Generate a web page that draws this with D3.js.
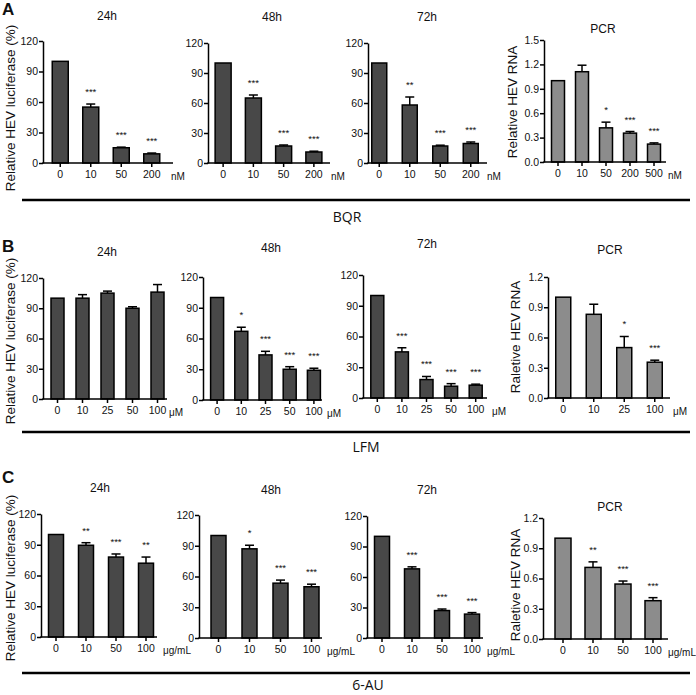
<!DOCTYPE html>
<html><head><meta charset="utf-8">
<script src="https://cdn.jsdelivr.net/npm/d3@7"></script>
<style>
html,body{margin:0;padding:0;background:#fff;}
svg text{font-family:"Liberation Sans",Arial,sans-serif;fill:#111;}
</style></head>
<body><svg id="c" width="696" height="695"></svg>
<script>
// ---------- DATA ----------
const rowLetters = ["A", "B", "C"];
const drugs = ["BQR", "LFM", "6-AU"];
const panelTitles = ["24h", "48h", "72h", "PCR"];
const units = ["nM", "μM", "μg/mL"];
const lucTicks = [0, 30, 60, 90, 120];
const pcrTicksA = [0, 0.3, 0.6, 0.9, 1.2, 1.5];
const pcrTicksBC = [0, 0.3, 0.6, 0.9, 1.2];
const yLabelLuc = "Relative HEV luciferase (%)";
const yLabelPcrA = "Relative HEV RNA";
const yLabelPcrBC = "Raletive HEV RNA";

// Row A (BQR)
const catsA = ["0", "10", "50", "200"];
const catsAPcr = ["0", "10", "50", "200", "500"];
const valA24 = [100, 55, 15, 9];      const errA24 = [0, 3, 0.6, 0.8];   const starA24 = ["", "***", "***", "***"];
const valA48 = [100, 65, 17, 11];     const errA48 = [0, 3, 1, 0.8];     const starA48 = ["", "***", "***", "***"];
const valA72 = [100, 58, 17, 19.5];   const errA72 = [0, 8, 0.8, 1.5];   const starA72 = ["", "**", "***", "***"];
const valAPcr = [1.0, 1.11, 0.42, 0.355, 0.22]; const errAPcr = [0, 0.08, 0.07, 0.02, 0.015]; const starAPcr = ["", "", "*", "***", "***"];

// Row B (LFM)
const catsB = ["0", "10", "25", "50", "100"];
const catsBPcr = ["0", "10", "25", "100"];
const valB24 = [100, 100, 105, 90, 106];   const errB24 = [0, 3.5, 2, 1.5, 7.5]; const starB24 = ["", "", "", "", ""];
const valB48 = [100, 67, 44, 30, 29];      const errB48 = [0, 4, 3.5, 2.5, 2];   const starB48 = ["", "*", "***", "***", "***"];
const valB72 = [100, 45, 18, 11.5, 12.5];  const errB72 = [0, 4, 3, 2.5, 1];     const starB72 = ["", "***", "***", "***", "***"];
const valBPcr = [1.0, 0.83, 0.50, 0.355];  const errBPcr = [0, 0.1, 0.11, 0.02]; const starBPcr = ["", "", "*", "***"];

// Row C (6-AU)
const catsC = ["0", "10", "50", "100"];
const valC24 = [100, 89.5, 78, 72];    const errC24 = [0, 2.5, 3, 6];    const starC24 = ["", "**", "***", "**"];
const valC48 = [100, 87, 53.5, 50];    const errC48 = [0, 3.5, 3, 2.5];  const starC48 = ["", "*", "***", "***"];
const valC72 = [100, 68, 27, 23.5];    const errC72 = [0, 2, 1.5, 1.5];  const starC72 = ["", "***", "***", "***"];
const valCPcr = [1.0, 0.71, 0.545, 0.38]; const errCPcr = [0, 0.055, 0.03, 0.03]; const starCPcr = ["", "**", "***", "***"];

// ---------- LAYOUT (positions only) ----------
const layout = [
  // row A
  {x0:43, xEnd:173, band:[45,167], y0:163, yTop:41, tx:107, ty:20, ux:178, bw:16},
  {x0:208, xEnd:330, band:[208,329], y0:163, yTop:43, tx:272, ty:21, ux:338, bw:16},
  {x0:368, xEnd:487, band:[364,486], y0:163, yTop:43, tx:427, ty:21, ux:494, bw:15},
  {x0:544, xEnd:666, band:[546,666], y0:162, yTop:40, tx:603, ty:33, ux:675, bw:13},
  // row B
  {x0:43, xEnd:167, band:[45,170], y0:399, yTop:278, tx:107, ty:256, ux:176, bw:13},
  {x0:203, xEnd:322, band:[205,326], y0:400, yTop:277, tx:271, ty:252, ux:334, bw:13},
  {x0:363, xEnd:487, band:[365,488], y0:398, yTop:275, tx:427, ty:248, ux:499, bw:13},
  {x0:548, xEnd:670, band:[548,670], y0:398, yTop:277, tx:610, ty:254, ux:680, bw:15},
  // row C
  {x0:41, xEnd:157, band:[41,161], y0:637, yTop:514, tx:100, ty:492, ux:177, bw:15},
  {x0:199, xEnd:322, band:[203,327], y0:638, yTop:515, tx:271, ty:494, ux:341, bw:15},
  {x0:367, xEnd:483, band:[367,487], y0:638, yTop:516, tx:427, ty:494, ux:501, bw:15},
  {x0:543, xEnd:668, band:[548,668], y0:639, yTop:518, tx:610, ty:511, ux:682, bw:16}
];
const rowLayout = [
  {letterY:15, lucLabel:[10,108], pcrLabel:[512,102], lineY:200, drugX:347, drugY:222},
  {letterY:252, lucLabel:[10,341], pcrLabel:[515,337], lineY:432, drugX:366, drugY:452},
  {letterY:483, lucLabel:[10,578], pcrLabel:[515,585], lineY:673, drugX:368, drugY:690}
];

// ---------- BUILD PANELS ----------
const panels = [
  {cats:catsA, v:valA24, e:errA24, s:starA24, max:120, ticks:lucTicks, pcr:false, row:0, t:0},
  {cats:catsA, v:valA48, e:errA48, s:starA48, max:120, ticks:lucTicks, pcr:false, row:0, t:1},
  {cats:catsA, v:valA72, e:errA72, s:starA72, max:120, ticks:lucTicks, pcr:false, row:0, t:2},
  {cats:catsAPcr, v:valAPcr, e:errAPcr, s:starAPcr, max:1.5, ticks:pcrTicksA, pcr:true, row:0, t:3},
  {cats:catsB, v:valB24, e:errB24, s:starB24, max:120, ticks:lucTicks, pcr:false, row:1, t:0},
  {cats:catsB, v:valB48, e:errB48, s:starB48, max:120, ticks:lucTicks, pcr:false, row:1, t:1},
  {cats:catsB, v:valB72, e:errB72, s:starB72, max:120, ticks:lucTicks, pcr:false, row:1, t:2},
  {cats:catsBPcr, v:valBPcr, e:errBPcr, s:starBPcr, max:1.2, ticks:pcrTicksBC, pcr:true, row:1, t:3},
  {cats:catsC, v:valC24, e:errC24, s:starC24, max:120, ticks:lucTicks, pcr:false, row:2, t:0},
  {cats:catsC, v:valC48, e:errC48, s:starC48, max:120, ticks:lucTicks, pcr:false, row:2, t:1},
  {cats:catsC, v:valC72, e:errC72, s:starC72, max:120, ticks:lucTicks, pcr:false, row:2, t:2},
  {cats:catsC, v:valCPcr, e:errCPcr, s:starCPcr, max:1.2, ticks:pcrTicksBC, pcr:true, row:2, t:3}
];

const svg = d3.select("#c");
const DARK = "#484848", LIGHT = "#8c8c8c";

panels.forEach((p, i) => {
  const L = layout[i];
  const g = svg.append("g");
  const x = d3.scaleBand().domain(p.cats).range(L.band);
  const y = d3.scaleLinear().domain([0, p.max]).range([L.y0, L.yTop]);
  const data = p.cats.map((c, k) => ({c, v:p.v[k], e:p.e[k], s:p.s[k]}));

  // bars
  g.selectAll("rect.bar").data(data).enter().append("rect")
    .attr("x", d => x(d.c) + x.bandwidth()/2 - L.bw/2)
    .attr("width", L.bw)
    .attr("y", d => y(d.v))
    .attr("height", d => y(0) - y(d.v))
    .attr("fill", p.pcr ? LIGHT : DARK)
    .attr("stroke", "#000").attr("stroke-width", 1.5);

  // error bars (upper only)
  const eb = data.filter(d => d.e > 0);
  g.selectAll("line.err").data(eb).enter().append("line")
    .attr("x1", d => x(d.c) + x.bandwidth()/2).attr("x2", d => x(d.c) + x.bandwidth()/2)
    .attr("y1", d => y(d.v)).attr("y2", d => y(d.v + d.e))
    .attr("stroke", "#000").attr("stroke-width", 1.5);
  g.selectAll("line.cap").data(eb).enter().append("line")
    .attr("x1", d => x(d.c) + x.bandwidth()/2 - 4.5).attr("x2", d => x(d.c) + x.bandwidth()/2 + 4.5)
    .attr("y1", d => y(d.v + d.e)).attr("y2", d => y(d.v + d.e))
    .attr("stroke", "#000").attr("stroke-width", 1.5);

  // stars
  g.selectAll("text.star").data(data.filter(d => d.s)).enter().append("text")
    .attr("x", d => x(d.c) + x.bandwidth()/2)
    .attr("y", d => y(d.v + d.e) - 9)
    .attr("text-anchor", "middle").attr("font-size", 9.5)
    .text(d => d.s);

  // y axis
  const ya = g.append("g").attr("transform", `translate(${L.x0},0)`)
    .call(d3.axisLeft(y).tickValues(p.ticks).tickSize(4).tickSizeOuter(0)
      .tickFormat(p.pcr ? d3.format(".1f") : d3.format("d")));
  ya.select(".domain").attr("stroke", "#000").attr("stroke-width", 1.5);
  ya.selectAll(".tick line").attr("stroke", "#000").attr("stroke-width", 1.5);
  ya.selectAll(".tick text").attr("font-size", 10.5).attr("font-family", "Liberation Sans, Arial, sans-serif").attr("fill", "#111").attr("x", -5);

  // x axis
  const xa = g.append("g").attr("transform", `translate(0,${L.y0})`)
    .call(d3.axisBottom(x).tickSize(4).tickSizeOuter(0));
  xa.select(".domain").remove();
  xa.selectAll(".tick line").attr("stroke", "#000").attr("stroke-width", 1.5);
  xa.selectAll(".tick text").attr("font-size", 10.5).attr("font-family", "Liberation Sans, Arial, sans-serif").attr("fill", "#111").attr("y", 8);
  g.append("line").attr("x1", L.x0 - 0.75).attr("x2", L.xEnd).attr("y1", L.y0).attr("y2", L.y0)
    .attr("stroke", "#000").attr("stroke-width", 1.5);

  // unit
  g.append("text").attr("x", L.ux).attr("y", L.y0 + 17).attr("text-anchor", "middle")
    .attr("font-size", 10).text(units[p.row]);

  // title
  g.append("text").attr("x", L.tx).attr("y", L.ty).attr("text-anchor", "middle")
    .attr("font-size", 12).text(panelTitles[p.t]);
});

// row decorations
rowLayout.forEach((R, r) => {
  svg.append("text").attr("x", 2).attr("y", R.letterY).attr("font-size", 17).attr("font-weight", "bold")
    .text(rowLetters[r]);
  svg.append("text").attr("transform", `translate(${R.lucLabel[0]},${R.lucLabel[1]}) rotate(-90)`)
    .attr("text-anchor", "middle").attr("dominant-baseline", "central").attr("font-size", 13.5)
    .text(yLabelLuc);
  svg.append("text").attr("transform", `translate(${R.pcrLabel[0]},${R.pcrLabel[1]}) rotate(-90)`)
    .attr("text-anchor", "middle").attr("dominant-baseline", "central").attr("font-size", 13.5)
    .text(r === 0 ? yLabelPcrA : yLabelPcrBC);
  svg.append("line").attr("x1", 22).attr("x2", 690).attr("y1", R.lineY).attr("y2", R.lineY)
    .attr("stroke", "#000").attr("stroke-width", 2.5);
  svg.append("text").attr("x", R.drugX).attr("y", R.drugY).attr("text-anchor", "middle")
    .attr("font-size", 14).style("font-family", "'Open Sans', sans-serif").text(drugs[r]);
});
</script></body></html>
